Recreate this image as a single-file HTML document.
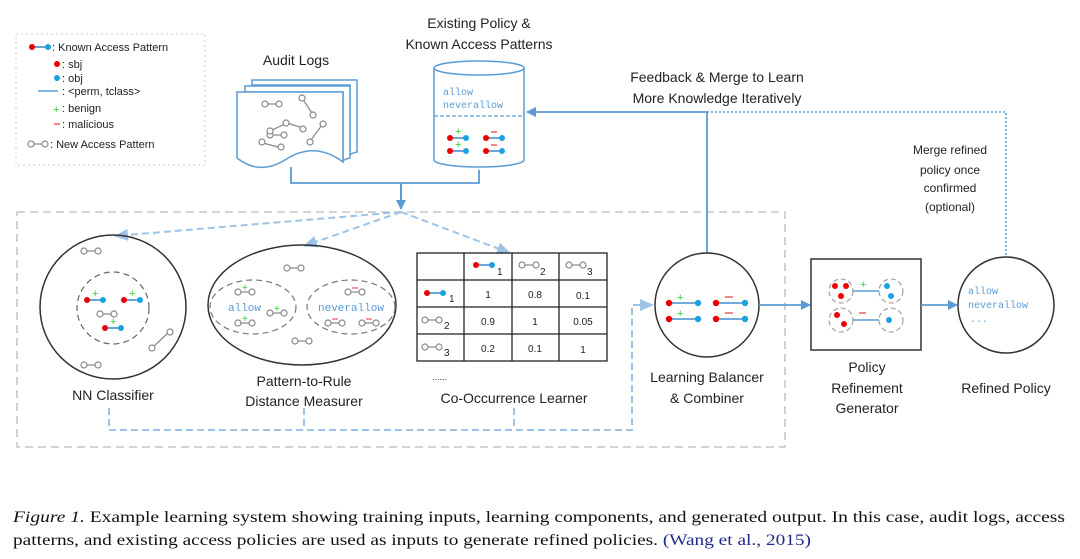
<!DOCTYPE html>
<html><head><meta charset="utf-8"><style>
html,body{margin:0;padding:0;background:#fff;}
svg{display:block;}
.t{font-family:"Liberation Sans",sans-serif;fill:#222;}
.m{font-family:"Liberation Mono",monospace;fill:#5b9bd5;}
</style></head><body>
<svg width="1080" height="559" viewBox="0 0 1080 559" xmlns="http://www.w3.org/2000/svg">
<defs>
<g id="np"><circle cx="0" cy="0" r="3" fill="#fff" stroke="#888" stroke-width="1.2"/><line x1="3" y1="0" x2="11" y2="0" stroke="#888" stroke-width="1.2"/><circle cx="14" cy="0" r="3" fill="#fff" stroke="#888" stroke-width="1.2"/></g>
<g id="kp"><line x1="0" y1="0" x2="16" y2="0" stroke="#5b9bd5" stroke-width="1.8"/><circle cx="0" cy="0" r="3" fill="#e00"/><circle cx="16" cy="0" r="3" fill="#1aa3e0"/></g>
<g id="kpp"><use href="#kp"/><text x="5" y="-3" font-family="Liberation Sans" font-size="11" fill="#3c3">+</text></g>
<g id="kpm"><use href="#kp"/><line x1="5" y1="-6" x2="11" y2="-6" stroke="#e44" stroke-width="1.3"/></g>
<g id="kpl"><line x1="0" y1="0" x2="29" y2="0" stroke="#5b9bd5" stroke-width="1.8"/><circle cx="0" cy="0" r="3.2" fill="#e00"/><circle cx="29" cy="0" r="3.2" fill="#1aa3e0"/></g>
<marker id="ah" markerWidth="10" markerHeight="10" refX="9" refY="5" orient="auto" markerUnits="userSpaceOnUse"><path d="M0,0 L10,5 L0,10z" fill="#5b9bd5"/></marker>
<marker id="ahl" markerWidth="14" markerHeight="12" refX="13" refY="6" orient="auto" markerUnits="userSpaceOnUse"><path d="M0,0 L14,6 L0,12z" fill="#9dc3e6"/></marker>
</defs>

<!-- legend -->
<rect x="16" y="34" width="189" height="131" fill="none" stroke="#ccc" stroke-dasharray="2,3"/>
<g font-size="11" class="t">
<use href="#kp" x="32" y="47"/><text x="52" y="51">: Known Access  Pattern</text>
<circle cx="57" cy="64" r="3" fill="#e00"/><text x="62" y="68">: sbj</text>
<circle cx="57" cy="78" r="3" fill="#1aa3e0"/><text x="62" y="82">: obj</text>
<line x1="38" y1="91" x2="58" y2="91" stroke="#5b9bd5" stroke-width="1.5"/><text x="62" y="95">: &lt;perm, tclass&gt;</text>
<text x="53" y="113" fill="#3c3">+</text><text x="62" y="112">: benign</text>
<line x1="54" y1="124" x2="60" y2="124" stroke="#e44" stroke-width="1.3"/><text x="62" y="128">: malicious</text>
<use href="#np" x="31" y="144"/><text x="50" y="148">: New Access Pattern</text>
</g>

<!-- audit logs -->
<text class="t" x="296" y="65" font-size="14" text-anchor="middle">Audit Logs</text>
<g fill="#fff" stroke="#5b9bd5" stroke-width="1.5">
<path d="M252,80 H357 V152 Q352,153 350,155 V85 H252z"/>
<path d="M245,86 H350 V158 Q345,159 343,161 V92 H245z"/>
<path d="M237,92 H343 V162 C320,145 300,150 285,160 C265,172 250,168 237,158z"/>
</g>
<use href="#np" x="265" y="104"/><use href="#np" x="270" y="135"/>
<g stroke="#888" stroke-width="1.2" fill="#fff">
<line x1="302" y1="98" x2="312" y2="113"/><circle cx="302" cy="98" r="3"/><circle cx="313" cy="115" r="3"/>
<line x1="270" y1="131" x2="287" y2="123"/><line x1="287" y1="123" x2="303" y2="128"/><circle cx="270" cy="131" r="3"/><circle cx="286" cy="123" r="3"/><circle cx="303" cy="129" r="3"/>
<line x1="311" y1="140" x2="322" y2="125"/><circle cx="310" cy="142" r="3"/><circle cx="323" cy="124" r="3"/>
<line x1="263" y1="143" x2="278" y2="147"/><circle cx="262" cy="142" r="3"/><circle cx="281" cy="147" r="3"/>
</g>

<!-- cylinder -->
<text class="t" x="479" y="28" font-size="14" text-anchor="middle">Existing Policy &amp;</text>
<text class="t" x="479" y="49" font-size="14" text-anchor="middle">Known Access Patterns</text>
<path d="M434,68 V160 A45,7 0 0 0 524,160 V68" fill="#fff" stroke="#5b9bd5" stroke-width="1.5"/>
<ellipse cx="479" cy="68" rx="45" ry="7" fill="#fff" stroke="#5b9bd5" stroke-width="1.5"/>
<text class="m" x="443" y="95" font-size="10">allow</text>
<text class="m" x="443" y="108" font-size="10">neverallow</text>
<line x1="434" y1="116" x2="524" y2="116" stroke="#5b9bd5" stroke-width="1.3" stroke-dasharray="4,2"/>
<use href="#kpp" x="450" y="138"/><use href="#kpm" x="486" y="138"/>
<use href="#kpp" x="450" y="151"/><use href="#kpm" x="486" y="151"/>

<!-- input connectors -->
<path d="M291,167 V183 H479 V170" fill="none" stroke="#5b9bd5" stroke-width="1.8"/>
<line x1="401" y1="183" x2="401" y2="209" stroke="#5b9bd5" stroke-width="2" marker-end="url(#ah)"/>

<!-- big dashed box -->
<rect x="17" y="212" width="768" height="235" fill="none" stroke="#bbb" stroke-width="1.3" stroke-dasharray="8,5"/>

<!-- dashed arrows -->
<g stroke="#9dc3e6" stroke-width="2" stroke-dasharray="7,4" fill="none">
<line x1="401" y1="212" x2="115" y2="236" marker-end="url(#ahl)"/>
<line x1="401" y1="212" x2="304" y2="246" marker-end="url(#ahl)"/>
<line x1="401" y1="212" x2="510" y2="253" marker-end="url(#ahl)"/>
<path d="M109,408 V430 H632 V305 H653" marker-end="url(#ahl)"/>
<line x1="304" y1="408" x2="304" y2="430"/>
<line x1="514" y1="408" x2="514" y2="430"/>
</g>

<!-- NN classifier -->
<ellipse cx="113" cy="307" rx="73" ry="72" fill="none" stroke="#333" stroke-width="1.5"/>
<ellipse cx="113" cy="308" rx="36" ry="36" fill="none" stroke="#666" stroke-width="1.2" stroke-dasharray="6,4"/>
<use href="#np" x="84" y="251"/><use href="#np" x="84" y="365"/>
<g stroke="#888" stroke-width="1.2" fill="#fff"><line x1="153" y1="347" x2="168" y2="333"/><circle cx="152" cy="348" r="3"/><circle cx="170" cy="332" r="3"/></g>
<use href="#kpp" x="87" y="300"/><use href="#kpp" x="124" y="300"/><use href="#np" x="100" y="314"/><use href="#kpp" x="105" y="328"/>
<text class="t" x="113" y="400" font-size="14" text-anchor="middle">NN Classifier</text>

<!-- pattern-to-rule -->
<ellipse cx="302" cy="305" rx="94" ry="60" fill="none" stroke="#333" stroke-width="1.5"/>
<ellipse cx="253" cy="307" rx="43" ry="27" fill="none" stroke="#777" stroke-width="1.2" stroke-dasharray="6,4"/>
<ellipse cx="351" cy="307" rx="44" ry="27" fill="none" stroke="#777" stroke-width="1.2" stroke-dasharray="6,4"/>
<use href="#np" x="287" y="268"/><use href="#np" x="295" y="341"/>
<use href="#np" x="238" y="292"/><use href="#np" x="270" y="313"/><use href="#np" x="238" y="323"/>
<text x="242" y="291" font-family="Liberation Sans" font-size="10" fill="#3c3">+</text>
<text x="274" y="312" font-family="Liberation Sans" font-size="10" fill="#3c3">+</text>
<text x="242" y="322" font-family="Liberation Sans" font-size="10" fill="#3c3">+</text>
<text class="m" x="228" y="311" font-size="11">allow</text>
<text class="m" x="318" y="311" font-size="11">neverallow</text>
<use href="#np" x="348" y="292"/><use href="#np" x="328" y="323"/><use href="#np" x="362" y="323"/>
<g stroke="#e44" stroke-width="1.1"><line x1="352" y1="288" x2="358" y2="288"/><line x1="332" y1="319" x2="338" y2="319"/><line x1="366" y1="319" x2="372" y2="319"/></g>
<text class="t" x="304" y="386" font-size="14" text-anchor="middle">Pattern-to-Rule</text>
<text class="t" x="304" y="406" font-size="14" text-anchor="middle">Distance Measurer</text>

<!-- table -->
<g stroke="#222" stroke-width="1.3" fill="none">
<rect x="417" y="253" width="190" height="108"/>
<line x1="464" y1="253" x2="464" y2="361"/><line x1="512" y1="253" x2="512" y2="361"/><line x1="559" y1="253" x2="559" y2="361"/>
<line x1="417" y1="280" x2="607" y2="280"/><line x1="417" y1="307" x2="607" y2="307"/><line x1="417" y1="334" x2="607" y2="334"/>
</g>
<g class="t" font-size="10">
<use href="#kp" x="476" y="265"/><text x="497" y="275">1</text>
<use href="#np" x="522" y="265"/><text x="540" y="275">2</text>
<use href="#np" x="569" y="265"/><text x="587" y="275">3</text>
<use href="#kp" x="427" y="293"/><text x="449" y="302">1</text>
<use href="#np" x="425" y="320"/><text x="444" y="329">2</text>
<use href="#np" x="425" y="347"/><text x="444" y="356">3</text>
<g text-anchor="middle"><text x="488" y="298">1</text><text x="535" y="298">0.8</text><text x="583" y="299">0.1</text>
<text x="488" y="325">0.9</text><text x="535" y="325">1</text><text x="583" y="325">0.05</text>
<text x="488" y="352">0.2</text><text x="535" y="352">0.1</text><text x="583" y="353">1</text></g>
</g>
<text class="t" x="432" y="380" font-size="9">......</text>
<text class="t" x="514" y="403" font-size="14" text-anchor="middle">Co-Occurrence Learner</text>

<!-- feedback -->
<text class="t" x="717" y="82" font-size="14" text-anchor="middle">Feedback &amp; Merge to Learn</text>
<text class="t" x="717" y="103" font-size="14" text-anchor="middle">More Knowledge Iteratively</text>
<path d="M707,253 V112 H527" fill="none" stroke="#5b9bd5" stroke-width="1.8" marker-end="url(#ah)"/>
<path d="M707,112 H1006 V257" fill="none" stroke="#5b9bd5" stroke-width="1.6" stroke-dasharray="2,2"/>
<g class="t" font-size="12" text-anchor="middle">
<text x="950" y="154">Merge refined</text><text x="950" y="174">policy once</text><text x="950" y="192">confirmed</text><text x="950" y="211">(optional)</text>
</g>

<!-- learning balancer -->
<circle cx="707" cy="305" r="52" fill="#fff" stroke="#333" stroke-width="1.5"/>
<use href="#kpl" x="669" y="303"/><use href="#kpl" x="716" y="303"/>
<use href="#kpl" x="669" y="319"/><use href="#kpl" x="716" y="319"/>
<text x="677" y="301" font-family="Liberation Sans" font-size="11" fill="#3c3">+</text>
<text x="677" y="317" font-family="Liberation Sans" font-size="11" fill="#3c3">+</text>
<line x1="725" y1="297" x2="733" y2="297" stroke="#e44" stroke-width="1.3"/>
<line x1="725" y1="313" x2="733" y2="313" stroke="#e44" stroke-width="1.3"/>
<text class="t" x="707" y="382" font-size="14" text-anchor="middle">Learning Balancer</text>
<text class="t" x="707" y="403" font-size="14" text-anchor="middle">&amp; Combiner</text>
<line x1="759" y1="305" x2="810" y2="305" stroke="#5b9bd5" stroke-width="1.8" marker-end="url(#ah)"/>

<!-- policy refinement generator -->
<rect x="811" y="259" width="110" height="91" fill="#fff" stroke="#333" stroke-width="1.5"/>
<g fill="none" stroke="#999" stroke-width="1.1" stroke-dasharray="5,3">
<circle cx="841" cy="291" r="12"/><circle cx="891" cy="291" r="12"/><circle cx="841" cy="320" r="12"/><circle cx="891" cy="320" r="12"/>
</g>
<line x1="853" y1="291" x2="879" y2="291" stroke="#5b9bd5" stroke-width="1.6"/>
<line x1="853" y1="320" x2="879" y2="320" stroke="#5b9bd5" stroke-width="1.6"/>
<g fill="#e00"><circle cx="835" cy="286" r="3"/><circle cx="846" cy="286" r="3"/><circle cx="841" cy="296" r="3"/><circle cx="837" cy="315" r="3"/><circle cx="844" cy="324" r="3"/></g>
<g fill="#1aa3e0"><circle cx="887" cy="286" r="3"/><circle cx="891" cy="296" r="3"/><circle cx="889" cy="320" r="3"/></g>
<text x="860" y="288" font-family="Liberation Sans" font-size="11" fill="#3c3">+</text>
<line x1="859" y1="313" x2="866" y2="313" stroke="#e44" stroke-width="1.3"/>
<text class="t" x="867" y="372" font-size="14" text-anchor="middle">Policy</text>
<text class="t" x="867" y="393" font-size="14" text-anchor="middle">Refinement</text>
<text class="t" x="867" y="413" font-size="14" text-anchor="middle">Generator</text>
<line x1="921" y1="305" x2="957" y2="305" stroke="#5b9bd5" stroke-width="1.8" marker-end="url(#ah)"/>

<!-- refined policy -->
<circle cx="1006" cy="305" r="48" fill="#fff" stroke="#333" stroke-width="1.5"/>
<text class="m" x="968" y="294" font-size="10">allow</text>
<text class="m" x="968" y="308" font-size="10">neverallow</text>
<text class="m" x="970" y="322" font-size="10">...</text>
<text class="t" x="1006" y="393" font-size="14" text-anchor="middle">Refined Policy</text>

<!-- caption -->
<text x="13" y="522" font-family="Liberation Serif" font-size="16" fill="#111" textLength="1052" lengthAdjust="spacingAndGlyphs"><tspan font-style="italic">Figure 1.</tspan> Example learning system showing training inputs, learning components, and generated output. In this case, audit logs, access</text>
<text x="13" y="545" font-family="Liberation Serif" font-size="16" fill="#111" textLength="798" lengthAdjust="spacingAndGlyphs">patterns, and existing access policies are used as inputs to generate refined policies. <tspan fill="#1f2a8c">(Wang et al., 2015)</tspan></text>
</svg>
</body></html>
